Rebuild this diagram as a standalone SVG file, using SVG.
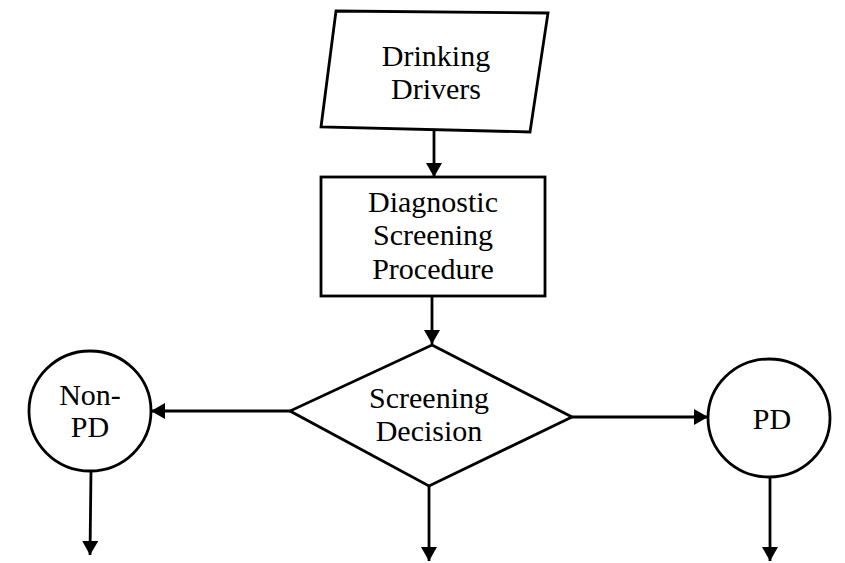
<svg xmlns="http://www.w3.org/2000/svg" width="845" height="563" viewBox="0 0 845 563">
<style>
.shape{fill:#fff;stroke:#000;stroke-width:2.8}
.lbl{font-family:"Liberation Serif",serif;font-size:30px;fill:#000;text-anchor:middle}
.conn{fill:none;stroke:#000;stroke-width:2.8}
</style>
<defs>
<marker id="ah" markerUnits="userSpaceOnUse" markerWidth="14" markerHeight="16" refX="14" refY="8" orient="auto">
<path d="M0,0 L14,8 L0,16 z" fill="#000"/>
</marker>
</defs>
<rect width="845" height="563" fill="#fff"/>
<g id="connectors">
<line class="conn" x1="434" y1="131" x2="434" y2="177" marker-end="url(#ah)"/>
<line class="conn" x1="432" y1="296" x2="432" y2="344" marker-end="url(#ah)"/>
<line class="conn" x1="290" y1="411" x2="151" y2="411" marker-end="url(#ah)"/>
<line class="conn" x1="572" y1="417" x2="708" y2="417" marker-end="url(#ah)"/>
<line class="conn" x1="429" y1="486" x2="429" y2="561" marker-end="url(#ah)"/>
<line class="conn" x1="91" y1="471" x2="90" y2="555" marker-end="url(#ah)"/>
<line class="conn" x1="770" y1="477" x2="770" y2="561" marker-end="url(#ah)"/>
</g>
<g id="drinking-drivers">
<polygon class="shape" points="336,11 548,13 530,132 321,127"/>
<text class="lbl" x="436" y="66">Drinking</text>
<text class="lbl" x="436" y="99">Drivers</text>
</g>
<g id="diagnostic">
<rect class="shape" x="321" y="177" width="224" height="119"/>
<text class="lbl" x="433" y="212">Diagnostic</text>
<text class="lbl" x="433" y="245">Screening</text>
<text class="lbl" x="433" y="279">Procedure</text>
</g>
<g id="decision">
<polygon class="shape" points="432,345 572,417 429,486 290,411"/>
<text class="lbl" x="429" y="408">Screening</text>
<text class="lbl" x="429" y="441">Decision</text>
</g>
<g id="non-pd">
<ellipse class="shape" cx="90" cy="411" rx="61" ry="60"/>
<text class="lbl" x="90" y="405">Non-</text>
<text class="lbl" x="90" y="437">PD</text>
</g>
<g id="pd">
<ellipse class="shape" cx="769" cy="418" rx="61" ry="59"/>
<text class="lbl" x="772" y="429">PD</text>
</g>
</svg>
